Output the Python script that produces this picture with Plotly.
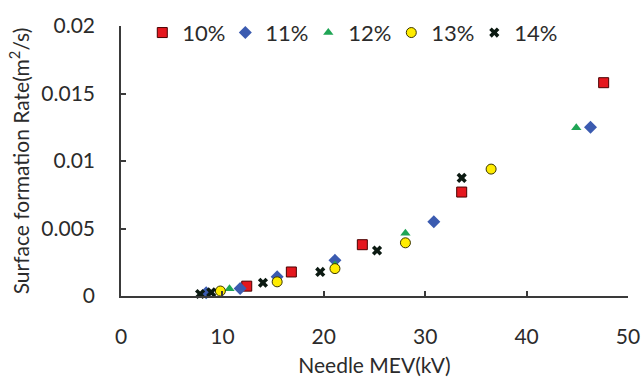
import plotly.graph_objects as go

# Needle MEV (kV) and surface formation rate (m^2/s) for each concentration
x_10 = [12.4, 16.8, 23.8, 33.6, 47.6]
y_10 = [0.00073, 0.00178, 0.0038, 0.0077, 0.0158]

x_11 = [8.4, 11.75, 15.4, 21.1, 30.85, 46.3]
y_11 = [0.00024, 0.00056, 0.00142, 0.00264, 0.0055, 0.0125]

x_12 = [10.7, 21.1, 28.05, 44.9]
y_12 = [0.00054, 0.0023, 0.00465, 0.01247]

x_13 = [9.8, 15.4, 21.1, 28.05, 36.5]
y_13 = [0.00037, 0.00105, 0.00203, 0.00394, 0.0094]

x_14 = [7.8, 8.9, 14.0, 19.65, 25.25, 33.6]
y_14 = [0.00015, 0.00027, 0.00098, 0.00178, 0.00337, 0.00875]

series_names = ["10%", "11%", "12%", "13%", "14%"]
x_ticks = [0, 10, 20, 30, 40, 50]
y_ticks = [0, 0.005, 0.01, 0.015, 0.02]
y_tick_text = ["0", "0.005", "0.01", "0.015", "0.02"]

FONT = "Lato"
TEXT = "#2b2b2b"
AXIS = "#3a3a3a"

styles = [
    dict(symbol="square", size=10, color="#e5171e", line=dict(color="#4a0000", width=1)),
    dict(symbol="diamond", size=10, color="#3b5bb0", line=dict(width=0)),
    dict(symbol="triangle-up", size=9, color="#1fa555", line=dict(width=0)),
    dict(symbol="circle", size=10, color="#ffec00", line=dict(color="#3a3500", width=1)),
    dict(symbol="x", size=9, color="#0c1a12", line=dict(width=0)),
]

data = [(x_10, y_10), (x_11, y_11), (x_12, y_12), (x_13, y_13), (x_14, y_14)]

fig = go.Figure()
for name, (xs, ys), st in zip(series_names, data, styles):
    fig.add_trace(go.Scatter(x=xs, y=ys, mode="markers", name=name, marker=st,
                             cliponaxis=False))

fig.update_layout(
    width=641, height=377,
    margin=dict(l=121, r=13, t=23, b=81),
    paper_bgcolor="white", plot_bgcolor="white",
    font=dict(family=FONT, color=TEXT, size=21),
    showlegend=True,
    legend=dict(
        orientation="h", x=0.042, y=0.975, xanchor="left", yanchor="middle",
        font=dict(size=22, family=FONT, color=TEXT),
        bgcolor="rgba(0,0,0,0)", itemwidth=30, tracegroupgap=0,
        entrywidth=38, entrywidthmode="pixels",
    ),
    xaxis=dict(
        range=[0, 50], tickvals=x_ticks, ticks="inside", ticklen=5,
        tickwidth=1.5, tickcolor=AXIS, showline=True, linecolor=AXIS,
        linewidth=1.5, showgrid=False, zeroline=False, automargin=False,
        tickfont=dict(size=21, family=FONT, color=TEXT),
        title=dict(text="Needle MEV(kV)", font=dict(size=21, family=FONT, color=TEXT), standoff=18),
        ticklabelstandoff=21,
    ),
    yaxis=dict(
        range=[0, 0.02], tickvals=y_ticks, ticktext=y_tick_text, ticks="inside",
        ticklen=5, tickwidth=1.5, tickcolor=AXIS, showline=True, linecolor=AXIS,
        linewidth=1.5, showgrid=False, zeroline=False, automargin=False,
        tickfont=dict(size=21, family=FONT, color=TEXT),
        title=dict(text="Surface formation Rate(m<sup>2</sup>/s)", font=dict(size=21, family=FONT, color=TEXT), standoff=6),
        ticklabelstandoff=20,
    ),
)

fig.write_html("out.html")
